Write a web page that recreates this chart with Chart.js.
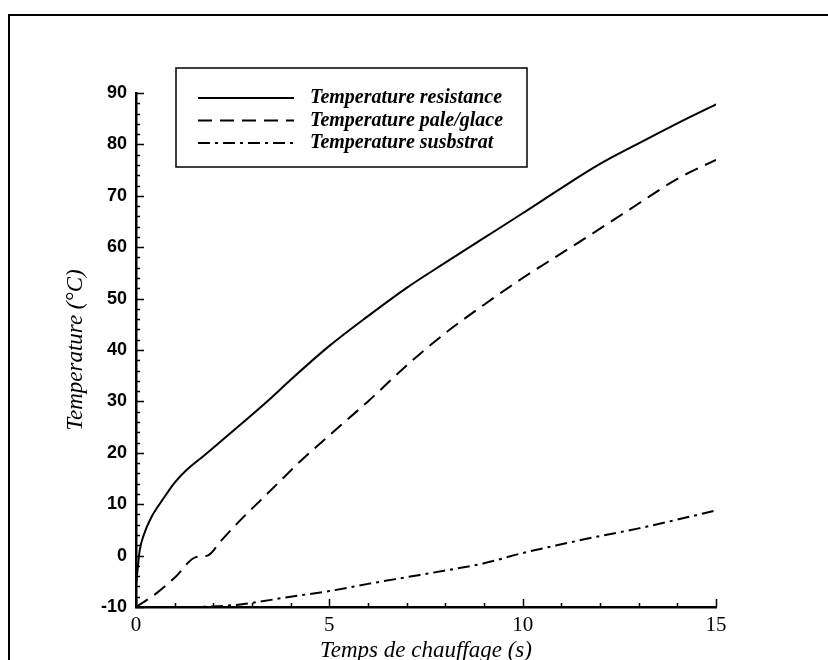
<!DOCTYPE html>
<html>
<head>
<meta charset="utf-8">
<script src="https://cdn.jsdelivr.net/npm/chart.js@4.4.1/dist/chart.umd.min.js"></script>
<style>
    html, body { margin: 0; padding: 0; background: #fff; }
    #wrap  { position: relative; width: 828px; height: 660px; }
    #chart { position: absolute; left: 0; top: 0; }
    #frame { position: absolute; left: 8px; top: 14px; right: 0; bottom: 0;
             border-top: 2px solid #000; border-left: 2px solid #000; pointer-events: none; }
</style>
</head>
<body>
<div id="wrap">
    <canvas id="chart" width="828" height="660"></canvas>
    <div id="frame"></div>
</div>
<script>
// ── Données
const labels = ['Temperature resistance', 'Temperature pale/glace', 'Temperature susbstrat'];

const tResistance = [0, 0.05, 0.1, 0.2, 0.4, 0.7, 1, 1.3, 1.7, 2, 2.5, 3, 3.5, 4, 5, 6, 7, 8, 9, 10, 11, 12, 13, 14, 15];
const yResistance = [-6, -2, 1.2, 4, 7.5, 11, 14.2, 16.6, 19.1, 21, 24.2, 27.4, 30.7, 34.2, 40.8, 46.6, 52.1, 57.0, 61.8, 66.6, 71.5, 76.2, 80.2, 84.1, 87.8];

const tPale = [0, 0.5, 1, 1.55, 1.85, 2.2, 2.7, 3.2, 3.7, 4.2, 5, 6, 7, 8, 9, 10, 11, 12, 13, 14, 15];
const yPale = [-10, -7.5, -4.3, -0.3, 0, 2.9, 6.9, 10.6, 14.3, 18.0, 23.4, 30.0, 37.0, 43.3, 48.8, 54.0, 58.8, 63.6, 68.5, 73.3, 77.0];

const tSubstrat = [0, 1, 2, 2.7, 3, 4, 5, 6, 7, 8, 9, 10, 11, 12, 13, 14, 15];
const ySubstrat = [-10, -10, -9.9, -9.5, -9.2, -8.0, -6.9, -5.5, -4.2, -2.9, -1.5, 0.5, 2.2, 3.8, 5.3, 7.0, 8.8];

const dashes = [[], [14, 8], [12, 5, 3, 5]];

const serif = '"Liberation Serif", "DejaVu Serif", serif';
const sans  = '"Liberation Sans", "DejaVu Sans", sans-serif';

function toPoints(xs, ys) {
    return xs.map((x, i) => ({ x, y: ys[i] }));
}

// Petits traits de graduation tournés vers l'intérieur
const innerTicks = {
    id: 'innerTicks',
    afterDatasetsDraw(chart) {
        const { ctx, scales: { x, y } } = chart;
        ctx.save();
        ctx.strokeStyle = '#000';
        ctx.lineWidth = 1.5;
        ctx.beginPath();
        for (let v = -10; v <= 90; v += 2) {
            const py = Math.round(y.getPixelForValue(v)) + 0.5;
            const len = v % 10 === 0 ? 8 : 4;
            ctx.moveTo(x.left, py);
            ctx.lineTo(x.left + len, py);
        }
        for (let v = 0; v <= 15; v += 1) {
            const px = Math.round(x.getPixelForValue(v)) + 0.5;
            const len = v % 5 === 0 ? 8 : 4;
            ctx.moveTo(px, y.bottom);
            ctx.lineTo(px, y.bottom - len);
        }
        ctx.stroke();
        ctx.restore();
    }
};

// Légende encadrée dans la zone du graphique
const boxedLegend = {
    id: 'boxedLegend',
    afterDraw(chart) {
        const ctx = chart.ctx;
        const left = 176, top = 68, w = 351, h = 99;
        ctx.save();
        ctx.strokeStyle = '#000';
        ctx.lineWidth = 1.5;
        ctx.strokeRect(left, top, w, h);
        ctx.font = 'italic bold 20px ' + serif;
        ctx.textBaseline = 'middle';
        ctx.fillStyle = '#000';
        chart.data.datasets.forEach((ds, i) => {
            const yy = top + 30 + i * 22.5;
            ctx.lineWidth = ds.borderWidth;
            ctx.setLineDash(ds.borderDash || []);
            ctx.beginPath();
            ctx.moveTo(198, yy);
            ctx.lineTo(294, yy);
            ctx.stroke();
            ctx.setLineDash([]);
            ctx.fillText(ds.label, 310, yy);
        });
        ctx.restore();
    }
};

const series = [
    toPoints(tResistance, yResistance),
    toPoints(tPale, yPale),
    toPoints(tSubstrat, ySubstrat)
];

new Chart(document.getElementById('chart'), {
    type: 'line',
    data: {
        datasets: series.map((data, i) => ({
            label:       labels[i],
            data,
            borderColor: '#000',
            borderWidth: 2,
            borderDash:  dashes[i],
            pointRadius: 0,
            fill:        false,
            cubicInterpolationMode: 'monotone'
        }))
    },
    options: {
        responsive: false,
        animation:  false,
        layout: { padding: { left: 0, right: 112, top: 93, bottom: 0 } },
        plugins: {
            legend:  { display: false },
            tooltip: { enabled: false }
        },
        scales: {
            x: {
                type: 'linear',
                min: 0,
                max: 15,
                grid:   { display: false, drawTicks: false },
                border: { display: true, color: '#000', width: 2.5 },
                ticks:  { stepSize: 5, color: '#000', padding: 6, maxRotation: 0,
                          font: { family: serif, size: 21 } },
                title:  { display: true, text: 'Temps de chauffage (s)', color: '#000',
                          font: { family: serif, size: 23, style: 'italic', lineHeight: 0.8 },
                          padding: { top: 0, bottom: 0 } },
                afterFit(scale) { scale.height = 53; }
            },
            y: {
                min: -10,
                max: 90,
                grid:   { display: false, drawTicks: false },
                border: { display: true, color: '#000', width: 2.5 },
                ticks:  { stepSize: 10, color: '#000', padding: 9,
                          font: { family: sans, size: 18, weight: 'bold' } },
                title:  { display: true, text: 'Temperature (°C)', color: '#000',
                          font: { family: serif, size: 23, style: 'italic' }, padding: { top: 62, bottom: 0 } },
                afterFit(scale) { scale.width = 136; }
            }
        }
    },
    plugins: [innerTicks, boxedLegend]
});
</script>
</body>
</html>
